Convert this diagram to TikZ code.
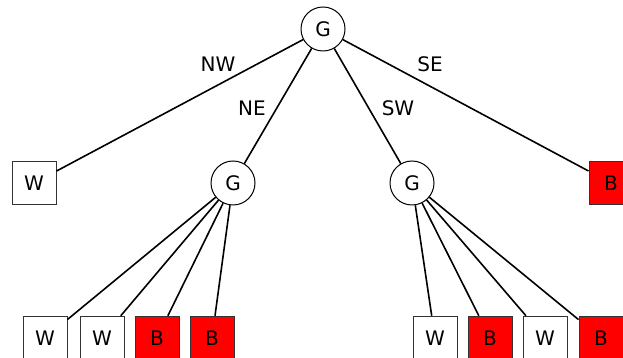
\documentclass[tikz,border=0pt]{standalone}
\usepackage{fontspec}
\setmainfont{DejaVu Sans}
\usepackage{xcolor}

\begin{document}
\begin{tikzpicture}[scale=1.000000,x=1pt,y=1pt,
  gnode/.style={draw=black,line width=1pt,circle,fill=white,minimum size=44pt,inner sep=0pt,font=\fontsize{20}{24}\selectfont},
  wleaf/.style={draw=black!80,line width=1pt,rectangle,fill=white,minimum width=44pt,minimum height=43.5pt,inner sep=0pt,font=\fontsize{20}{24}\selectfont},
  bleaf/.style={wleaf,fill=red},
  edgeline/.style={draw=black,line width=1.6pt},
  dirlabel/.style={font=\fontsize{20}{24}\selectfont,inner sep=0pt}]
\useasboundingbox (0.000000, 0.000000) rectangle (623.000000, 358.000000);
% Drawing nodes
% Level 0: root
\node[gnode] (root) at (323.000000, 329.000000) {G};
% Level 1: NW NE SW SE
\node[wleaf] (nw) at (34.000000, 175.000000) {W};
\node[gnode] (ne) at (233.000000, 175.000000) {G};
\node[gnode] (sw) at (412.000000, 175.000000) {G};
\node[bleaf] (se) at (611.000000, 175.000000) {B};
% Level 2: children of NE
\node[wleaf] (nenw) at (45.000000, 20.000000) {W};
\node[wleaf] (nene) at (102.000000, 20.000000) {W};
\node[bleaf] (nesw) at (157.000000, 20.000000) {B};
\node[bleaf] (nese) at (212.000000, 20.000000) {B};
% Level 2: children of SW
\node[wleaf] (swnw) at (435.000000, 20.000000) {W};
\node[bleaf] (swne) at (490.000000, 20.000000) {B};
\node[wleaf] (swsw) at (545.000000, 20.000000) {W};
\node[bleaf] (swse) at (601.000000, 20.000000) {B};
% Done with nodes; drawing edges
\draw[edgeline] (root) -- (nw);
\draw[edgeline] (root) -- (ne);
\draw[edgeline] (root) -- (sw);
\draw[edgeline] (root) -- (se);
\foreach \leaf in {nenw,nene,nesw,nese} {
  \draw[edgeline] (ne) -- (\leaf);
}
\foreach \leaf in {swnw,swne,swsw,swse} {
  \draw[edgeline] (sw) -- (\leaf);
}
% Done with edges; drawing edge labels
\node[dirlabel] (lnw) at (218.000000, 294.000000) {NW};
\node[dirlabel] (lne) at (252.000000, 250.000000) {NE};
\node[dirlabel] (lsw) at (398.000000, 250.000000) {SW};
\node[dirlabel] (lse) at (430.000000, 294.000000) {SE};
% Done with labels
\end{tikzpicture}
\end{document}
